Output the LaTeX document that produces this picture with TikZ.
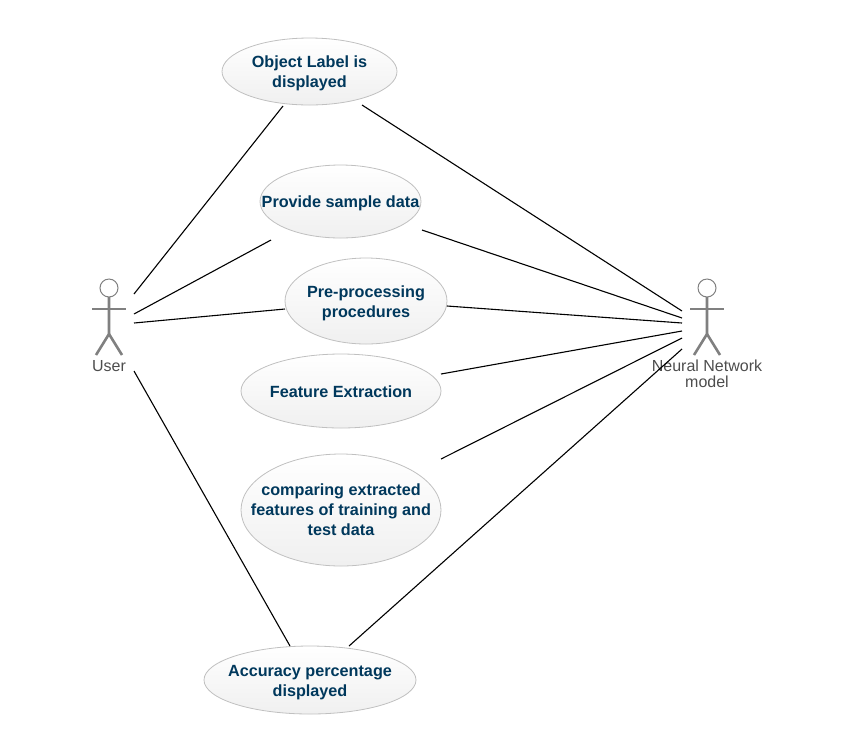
\documentclass[tikz,border=0pt]{standalone}
\usepackage{fontspec}
\setmainfont{Liberation Sans}
\usetikzlibrary{shapes.geometric, calc}
\definecolor{usecasetext}{HTML}{00385C}
\definecolor{usecaseline}{HTML}{C0C0C0}
\definecolor{actorline}{HTML}{808080}
\definecolor{actortext}{HTML}{4D4D4D}

% stick figure, #1 = name of its head, #2 = x of its middle
\newcommand{\stickman}[2]{
    \node [actorhead] (#1) at (#2 , 288) {};
    \draw [actorbody] (#1.south) -- ++(0 , 37) coordinate (#1hip) -- ++(-13 , 21);
    \draw [actorbody] (#1hip) -- ++(13 , 21);
    \draw [actorbody] ($(#1)+(-17 , 21)$) -- ($(#1)+(17 , 21)$);
}

\begin{document}
\begin{tikzpicture}[x=1pt, y=-1pt,
    usecase/.style={ellipse, draw=usecaseline, line width=0.8pt, top color=white, bottom color=black!6, inner sep=0pt, outer sep=0pt},
    every label/.style={align=center, inner sep=0pt, yshift=-1.6pt, text=usecasetext, font=\fontsize{16.2}{20}\selectfont\bfseries},
    actorhead/.style={circle, draw=actorline, line width=1pt, fill=white, minimum size=18pt, inner sep=0pt, outer sep=0pt},
    actorbody/.style={draw=actorline, line width=2.6pt},
    actorname/.style={align=center, inner sep=0pt, text=actortext, font=\fontsize{16}{16}\selectfont},
    link/.style={draw=black, line width=1.1pt}]

    \useasboundingbox (0 , 0) rectangle (842 , 748);

    \node [usecase, minimum width=175pt, minimum height=67pt, label={center:Object Label is\\displayed}] (objlabel) at (309.5 , 71.5) {};
    \node [usecase, minimum width=161pt, minimum height=73pt, label={[yshift=-0.5pt]center:Provide sample data}] (provide) at (340.5 , 201.5) {};
    \node [usecase, minimum width=162pt, minimum height=86pt, label={[yshift=-0.8pt]center:Pre-processing\\procedures}] (preproc) at (366 , 301) {};
    \node [usecase, minimum width=200pt, minimum height=74pt, label={[yshift=1pt]center:Feature Extraction}] (feature) at (341 , 391) {};
    \node [usecase, minimum width=200pt, minimum height=112pt, label={[yshift=1.8pt]center:comparing extracted\\features of training and\\test data}] (compare) at (341 , 510) {};
    \node [usecase, minimum width=212pt, minimum height=68pt, label={[yshift=-1pt]center:Accuracy percentage\\displayed}] (accuracy) at (310 , 680) {};

    \stickman{user}{109}
    \stickman{network}{707}
    \node [actorname] (username) at (109 , 366.2) {User};
    \node [actorname] (networkname) at (707 , 374.2) {Neural Network\\model};

    \path [link]
      ($(user)+(25 , 6)$) edge ($(objlabel)+(-26.5 , 34.5)$)
      ($(user)+(25 , 26)$) edge ($(provide)+(-69.5 , 38.5)$)
      ($(user)+(25 , 35)$) edge ($(preproc)+(-81 , 8)$)
      ($(user)+(25 , 83)$) edge ($(accuracy)+(-20 , -34)$)
      ($(objlabel)+(52.5 , 33.5)$) edge ($(network)+(-25 , 23)$)
      ($(provide)+(81.5 , 28.5)$) edge ($(network)+(-25 , 30)$)
      ($(preproc)+(81 , 5)$) edge ($(network)+(-25 , 35)$)
      ($(feature)+(100 , -17)$) edge ($(network)+(-25 , 43)$)
      ($(compare)+(100 , -51)$) edge ($(network)+(-25 , 50)$)
      ($(accuracy)+(39 , -34)$) edge ($(network)+(-25 , 61)$);
\end{tikzpicture}
\end{document}
